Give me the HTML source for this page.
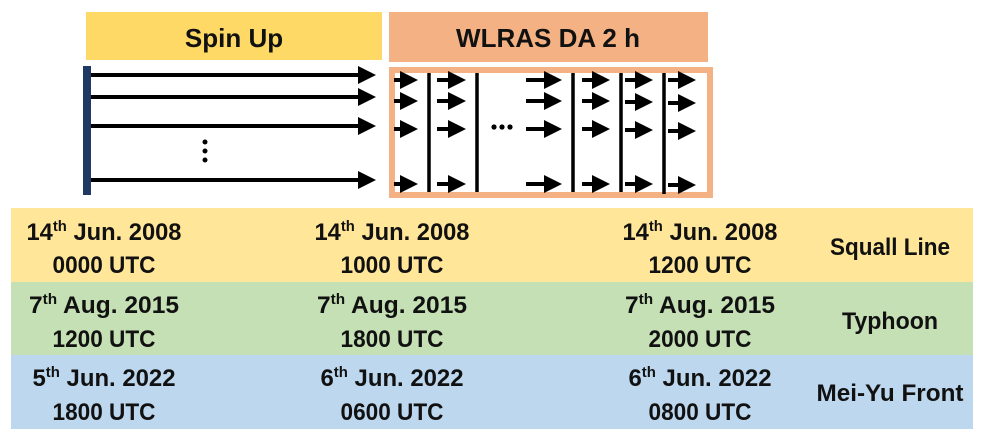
<!DOCTYPE html>
<html><head><meta charset="utf-8"><style>
html,body{margin:0;padding:0;background:#fff;width:985px;height:439px;overflow:hidden}
svg{display:block}
text{font-family:"Liberation Sans",sans-serif;font-weight:bold;fill:#111}
</style></head><body>
<svg width="985" height="439" viewBox="0 0 985 439" xmlns="http://www.w3.org/2000/svg">
<defs>
<marker id="ah" markerWidth="4.5" markerHeight="4.5" refX="3.5" refY="2.25" orient="auto" markerUnits="strokeWidth">
<path d="M0,0 L4.5,2.25 L0,4.5 z" fill="#000"/></marker>
</defs>
<rect x="86" y="12" width="296" height="48" fill="#FFD966"/>
<text x="234" y="47" text-anchor="middle" font-size="26">Spin Up</text>
<rect x="389" y="12" width="319" height="50" fill="#F4B183"/>
<text x="548" y="47" text-anchor="middle" font-size="26">WLRAS DA 2 h</text>
<rect x="83" y="66" width="8" height="129" fill="#1F3864"/>
<g stroke="#000" stroke-width="4" marker-end="url(#ah)">
<line x1="91" y1="75" x2="372" y2="75"/>
<line x1="91" y1="97" x2="372" y2="97"/>
<line x1="91" y1="126" x2="372" y2="126"/>
<line x1="91" y1="180" x2="372" y2="180"/>
</g>
<circle cx="205" cy="142" r="2.5" fill="#000"/>
<circle cx="205" cy="151" r="2.5" fill="#000"/>
<circle cx="205" cy="160" r="2.5" fill="#000"/>
<rect x="392" y="70" width="318" height="125" fill="none" stroke="#F4B183" stroke-width="6"/>
<g stroke="#000" stroke-width="3.5">
<line x1="429" y1="73" x2="429" y2="192"/>
<line x1="477" y1="73" x2="477" y2="192"/>
<line x1="573" y1="73" x2="573" y2="192"/>
<line x1="621" y1="73" x2="621" y2="192"/>
<line x1="664" y1="73" x2="664" y2="194"/>
</g>
<g stroke="#000" stroke-width="4" marker-end="url(#ah)">
<line x1="394" y1="80" x2="414" y2="80"/><line x1="394" y1="101" x2="414" y2="101"/><line x1="394" y1="129" x2="414" y2="129"/><line x1="394" y1="184" x2="414" y2="184"/>
<line x1="437" y1="80" x2="462" y2="80"/><line x1="437" y1="101" x2="462" y2="101"/><line x1="437" y1="129" x2="462" y2="129"/><line x1="437" y1="184" x2="462" y2="184"/>
<line x1="526" y1="80" x2="558" y2="80"/><line x1="526" y1="101" x2="558" y2="101"/><line x1="526" y1="129" x2="558" y2="129"/><line x1="526" y1="184" x2="558" y2="184"/>
<line x1="582" y1="80" x2="606" y2="80"/><line x1="582" y1="101" x2="606" y2="101"/><line x1="582" y1="129" x2="606" y2="129"/><line x1="582" y1="184" x2="606" y2="184"/>
<line x1="625" y1="80" x2="649" y2="80"/><line x1="625" y1="102" x2="649" y2="102"/><line x1="625" y1="130" x2="649" y2="130"/><line x1="625" y1="184" x2="649" y2="184"/>
<line x1="668" y1="80" x2="692" y2="80"/><line x1="668" y1="103" x2="692" y2="103"/><line x1="668" y1="131" x2="692" y2="131"/><line x1="668" y1="185" x2="692" y2="185"/>
</g>
<circle cx="494" cy="127" r="2.6" fill="#000"/><circle cx="502" cy="127" r="2.6" fill="#000"/><circle cx="510" cy="127" r="2.6" fill="#000"/>
<rect x="11" y="208" width="962" height="74" fill="#FFE699"/>
<rect x="11" y="282" width="962" height="73" fill="#C5E0B4"/>
<rect x="11" y="355" width="962" height="74" fill="#BDD7EE"/>
<g font-size="24" text-anchor="middle">
<text x="104" y="240" textLength="155" lengthAdjust="spacingAndGlyphs">14<tspan font-size="15" dy="-9">th</tspan><tspan dy="9"> Jun. 2008</tspan></text>
<text x="104" y="273" textLength="103" lengthAdjust="spacingAndGlyphs">0000 UTC</text>
<text x="392" y="240" textLength="155" lengthAdjust="spacingAndGlyphs">14<tspan font-size="15" dy="-9">th</tspan><tspan dy="9"> Jun. 2008</tspan></text>
<text x="392" y="273" textLength="103" lengthAdjust="spacingAndGlyphs">1000 UTC</text>
<text x="700" y="240" textLength="155" lengthAdjust="spacingAndGlyphs">14<tspan font-size="15" dy="-9">th</tspan><tspan dy="9"> Jun. 2008</tspan></text>
<text x="700" y="273" textLength="103" lengthAdjust="spacingAndGlyphs">1200 UTC</text>
<text x="890" y="255" textLength="120" lengthAdjust="spacingAndGlyphs">Squall Line</text>
<text x="104" y="313" textLength="150" lengthAdjust="spacingAndGlyphs">7<tspan font-size="15" dy="-9">th</tspan><tspan dy="9"> Aug. 2015</tspan></text>
<text x="104" y="347" textLength="103" lengthAdjust="spacingAndGlyphs">1200 UTC</text>
<text x="392" y="313" textLength="150" lengthAdjust="spacingAndGlyphs">7<tspan font-size="15" dy="-9">th</tspan><tspan dy="9"> Aug. 2015</tspan></text>
<text x="392" y="347" textLength="103" lengthAdjust="spacingAndGlyphs">1800 UTC</text>
<text x="700" y="313" textLength="150" lengthAdjust="spacingAndGlyphs">7<tspan font-size="15" dy="-9">th</tspan><tspan dy="9"> Aug. 2015</tspan></text>
<text x="700" y="347" textLength="103" lengthAdjust="spacingAndGlyphs">2000 UTC</text>
<text x="890" y="329" textLength="96" lengthAdjust="spacingAndGlyphs">Typhoon</text>
<text x="104" y="386" textLength="143" lengthAdjust="spacingAndGlyphs">5<tspan font-size="15" dy="-9">th</tspan><tspan dy="9"> Jun. 2022</tspan></text>
<text x="104" y="420" textLength="103" lengthAdjust="spacingAndGlyphs">1800 UTC</text>
<text x="392" y="386" textLength="143" lengthAdjust="spacingAndGlyphs">6<tspan font-size="15" dy="-9">th</tspan><tspan dy="9"> Jun. 2022</tspan></text>
<text x="392" y="420" textLength="103" lengthAdjust="spacingAndGlyphs">0600 UTC</text>
<text x="700" y="386" textLength="143" lengthAdjust="spacingAndGlyphs">6<tspan font-size="15" dy="-9">th</tspan><tspan dy="9"> Jun. 2022</tspan></text>
<text x="700" y="420" textLength="103" lengthAdjust="spacingAndGlyphs">0800 UTC</text>
<text x="890" y="401" textLength="147" lengthAdjust="spacingAndGlyphs">Mei-Yu Front</text>
</g>
</svg>
</body></html>
